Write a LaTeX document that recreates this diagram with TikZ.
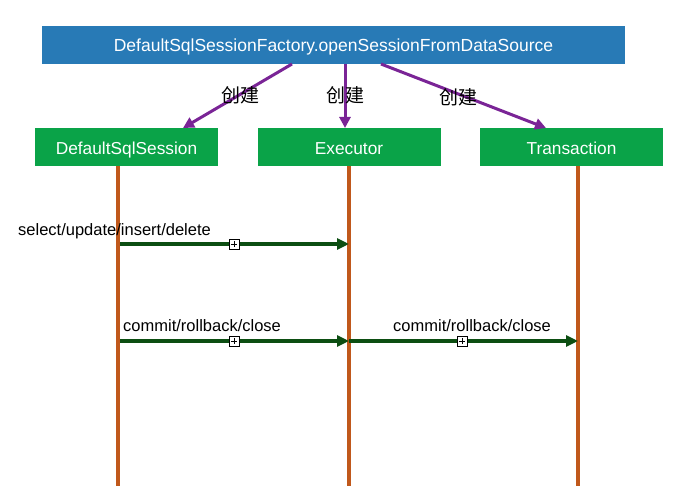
\documentclass[tikz,border=0pt]{standalone}
\usepackage{fontspec}
\setmainfont{Liberation Sans}
\newfontfamily\cjk{Noto Sans CJK SC}
\usetikzlibrary{arrows.meta}
\definecolor{topblue}{RGB}{40,122,182}
\definecolor{boxgreen}{RGB}{10,163,72}
\definecolor{lifeor}{RGB}{192,88,27}
\definecolor{purp}{RGB}{122,36,150}
\definecolor{msggreen}{RGB}{12,78,18}
\tikzset{
  topbox/.style={fill=topblue, text=white, font=\fontsize{17.5}{20}\selectfont, minimum width=583pt, minimum height=38pt, inner sep=0pt, text height=14pt, text depth=0pt},
  objbox/.style={fill=boxgreen, text=white, font=\fontsize{17.3}{20}\selectfont, minimum width=183pt, minimum height=38pt, inner sep=0pt, text height=15pt, text depth=0pt},
  lifeline/.style={lifeor, line width=4pt},
  create/.style={purp, line width=3pt, -{Triangle[length=11pt,width=11pt]}},
  msg/.style={msggreen, line width=3.5pt, -{Triangle[length=12pt,width=11pt]}},
  lbl/.style={font=\cjk\fontsize{19}{22}\selectfont, text=black, inner sep=0pt},
  msglbl/.style={font=\fontsize{16.5}{19}\selectfont, text=black, inner sep=0pt},
  plusbox/.style={draw=black, fill=white, line width=0.8pt, minimum size=10pt, inner sep=0pt,
    path picture={\draw[black, line width=0.8pt] ([xshift=1.8pt]path picture bounding box.west) -- ([xshift=-1.8pt]path picture bounding box.east)
      ([yshift=-1.8pt]path picture bounding box.north) -- ([yshift=1.8pt]path picture bounding box.south);}}
}
\begin{document}
\begin{tikzpicture}[x=1pt,y=-1pt]
\useasboundingbox (0,0) rectangle (693,486);
\node[topbox] (top) at (333.5,45) {DefaultSqlSessionFactory.openSessionFromDataSource};
\node[objbox] (dss) at (126.5,147) {DefaultSqlSession};
\node[objbox] (exe) at (349,147) {Executor};
\node[objbox] (tx) at (571.5,147) {Transaction};
% lifelines
\coordinate (dssend) at (118,486);
\coordinate (exeend) at (349,486);
\coordinate (txend) at (578,486);
\coordinate (dsstop) at (118,166);
\coordinate (exetop) at (349,166);
\coordinate (txtop) at (578,166);
\draw[lifeline] (dsstop) -- (dssend);
\draw[lifeline] (exetop) -- (exeend);
\draw[lifeline] (txtop) -- (txend);
% create arrows
\coordinate (c1s) at (292,64);
\coordinate (c1e) at (183,128);
\coordinate (c2s) at (345,64);
\coordinate (c2e) at (345,128);
\coordinate (c3s) at (381,64);
\coordinate (c3e) at (546,128);
\draw[create] (c1s) -- (c1e);
\draw[create] (c2s) -- (c2e);
\draw[create] (c3s) -- (c3e);
\node[lbl] (l1) at (240,95) {创建};
\node[lbl] (l2) at (345,95) {创建};
\node[lbl] (l3) at (458,97) {创建};
% messages
\coordinate (m1s) at (120,244);
\coordinate (m1e) at (349,244);
\coordinate (m2s) at (120,341);
\coordinate (m2e) at (349,341);
\coordinate (m3s) at (349,341);
\coordinate (m3e) at (578,341);
\draw[msg] (m1s) -- (m1e);
\draw[msg] (m2s) -- (m2e);
\draw[msg] (m3s) -- (m3e);
\node[plusbox] (p1) at (234,244) {};
\node[plusbox] (p2) at (234,341) {};
\node[plusbox] (p3) at (462,341) {};
\node[msglbl, anchor=west] (t1) at (18,231) {select/update/insert/delete};
\node[msglbl, anchor=west] (t2) at (123,326) {commit/rollback/close};
\node[msglbl, anchor=west] (t3) at (393,326) {commit/rollback/close};
\end{tikzpicture}
\end{document}
